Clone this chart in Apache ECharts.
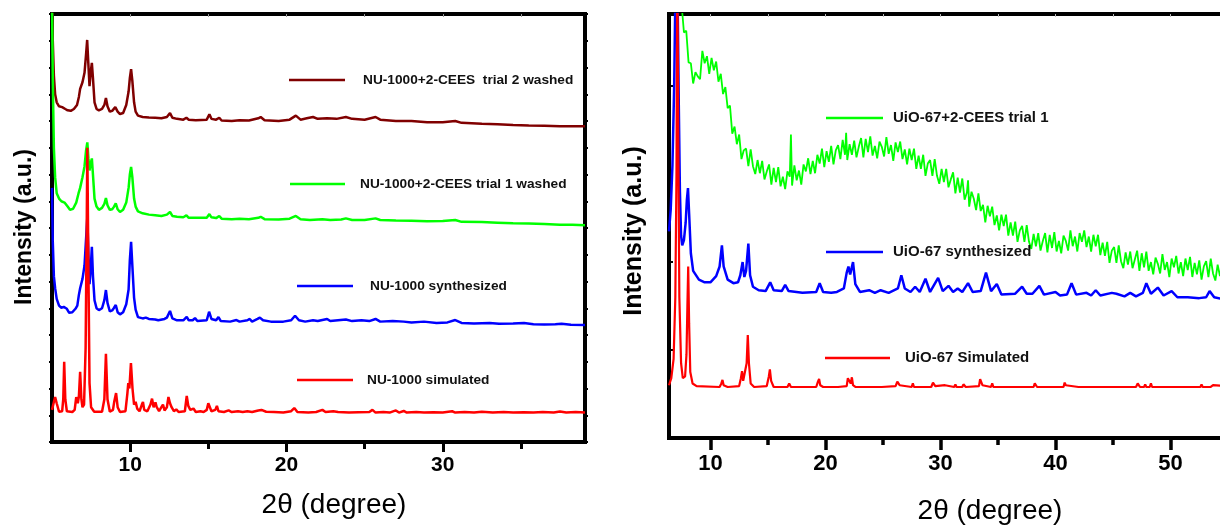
<!DOCTYPE html>
<html>
<head>
<meta charset="utf-8">
<script src="https://cdn.jsdelivr.net/npm/echarts@6/dist/echarts.min.js"></script>
<style>
html,body{margin:0;padding:0;background:#fff;}
#chart{width:1220px;height:529px;}
</style>
</head>
<body>
<div id="chart"></div>
<script>
// ---------- Left panel (NU-1000) : [2theta, intensity offset units] ----------
const leftNames = ['NU-1000+2-CEES  trial 2 washed','NU-1000+2-CEES trial 1 washed','NU-1000 synthesized','NU-1000 simulated'];
const leftXTicks = [10,15,20,25,30,35];
const leftXLabels = [10,20,30];

const nuTrial2 = [[5.0,16.5],[5.05,15.0],[5.12,13.7],[5.2,13.0],[5.3,12.7],[5.45,12.55],[5.65,12.52],[5.85,12.45],[6.0,12.4],[6.2,12.38],[6.4,12.45],[6.6,12.6],[6.72,12.9],[6.8,13.2],[6.95,13.45],[7.08,13.8],[7.18,14.5],[7.25,15.03],[7.32,14.2],[7.4,13.3],[7.47,13.8],[7.55,14.17],[7.62,13.6],[7.72,12.7],[7.85,12.45],[8.0,12.4],[8.2,12.45],[8.35,12.6],[8.45,12.86],[8.55,12.55],[8.7,12.35],[8.85,12.38],[8.95,12.45],[9.05,12.52],[9.2,12.35],[9.35,12.26],[9.55,12.3],[9.75,12.6],[9.9,13.1],[9.98,13.6],[10.06,13.94],[10.14,13.5],[10.25,12.7],[10.35,12.35],[10.5,12.2],[10.8,12.15],[11.2,12.13],[11.6,12.12],[12.0,12.1],[12.35,12.15],[12.55,12.3],[12.7,12.12],[13.0,12.08],[13.4,12.05],[13.6,12.12],[13.75,12.05],[14.2,12.03],[14.9,12.05],[15.07,12.25],[15.2,12.08],[15.5,12.05],[15.7,12.12],[15.85,12.02],[16.5,12.0],[17.0,12.03],[17.6,12.02],[18.2,12.1],[18.35,12.15],[18.6,12.03],[19.5,12.0],[20.2,12.05],[20.6,12.2],[20.9,12.05],[21.3,12.1],[21.7,12.15],[22.0,12.08],[22.6,12.1],[23.2,12.08],[23.8,12.15],[24.2,12.08],[25.0,12.05],[25.7,12.15],[26.0,12.05],[27.0,12.0],[28.0,12.0],[29.0,11.95],[30.0,11.95],[30.8,12.0],[31.2,11.93],[32.5,11.9],[33.5,11.88],[34.5,11.85],[35.5,11.83],[36.5,11.82],[37.5,11.8],[38.3,11.8],[39.1,11.8]];

const nuTrial1 = [[5.0,16.5],[5.05,13.5],[5.12,11.0],[5.2,9.9],[5.3,9.3],[5.45,9.1],[5.6,9.0],[5.8,8.95],[6.0,8.8],[6.15,8.68],[6.35,8.72],[6.55,8.95],[6.7,9.3],[6.8,9.5],[6.95,9.9],[7.08,10.3],[7.18,10.9],[7.26,11.2],[7.33,10.6],[7.4,10.15],[7.47,10.4],[7.55,10.6],[7.62,10.0],[7.72,9.1],[7.85,8.8],[8.0,8.68],[8.2,8.75],[8.35,8.9],[8.45,9.12],[8.55,8.85],[8.7,8.68],[8.85,8.7],[8.95,8.78],[9.08,8.92],[9.2,8.7],[9.35,8.6],[9.55,8.68],[9.75,8.95],[9.9,9.5],[9.98,10.0],[10.06,10.28],[10.14,9.9],[10.25,9.1],[10.35,8.8],[10.5,8.62],[10.8,8.55],[11.2,8.5],[11.6,8.48],[12.0,8.45],[12.35,8.5],[12.55,8.6],[12.7,8.45],[13.0,8.42],[13.4,8.4],[13.6,8.47],[13.75,8.38],[14.2,8.38],[14.9,8.38],[15.07,8.52],[15.2,8.4],[15.5,8.37],[15.7,8.45],[15.85,8.35],[16.5,8.33],[17.0,8.35],[17.6,8.33],[18.2,8.38],[18.35,8.42],[18.6,8.33],[19.5,8.32],[20.2,8.35],[20.6,8.45],[20.9,8.33],[21.5,8.3],[22.3,8.33],[22.8,8.3],[23.5,8.32],[23.8,8.36],[24.2,8.3],[25.0,8.3],[25.7,8.36],[26.0,8.3],[27.0,8.28],[28.0,8.27],[29.0,8.25],[30.0,8.26],[30.8,8.3],[31.2,8.23],[32.5,8.22],[33.5,8.2],[34.5,8.18],[35.5,8.17],[36.5,8.15],[37.5,8.12],[38.3,8.12],[39.1,8.1]];

const nuSynth = [[5.0,9.5],[5.05,7.5],[5.12,6.2],[5.2,5.75],[5.3,5.35],[5.45,5.1],[5.6,5.02],[5.75,5.05],[5.85,5.12],[5.95,4.98],[6.1,4.83],[6.3,4.85],[6.5,4.98],[6.62,5.1],[6.72,5.5],[6.8,5.75],[6.95,6.1],[7.08,6.6],[7.18,7.6],[7.26,8.4],[7.33,7.0],[7.4,5.9],[7.47,6.4],[7.55,7.3],[7.62,6.2],[7.72,5.3],[7.85,5.0],[8.0,4.93],[8.2,5.0],[8.35,5.3],[8.45,5.68],[8.55,5.2],[8.7,4.88],[8.85,4.92],[8.95,5.0],[9.08,5.12],[9.2,4.85],[9.35,4.77],[9.55,4.85],[9.75,5.15],[9.9,5.7],[9.98,6.8],[10.06,7.48],[10.14,6.6],[10.25,5.4],[10.35,4.95],[10.5,4.67],[10.8,4.62],[11.0,4.65],[11.2,4.6],[11.6,4.58],[11.8,4.55],[12.2,4.6],[12.35,4.65],[12.55,4.9],[12.7,4.62],[13.0,4.55],[13.4,4.55],[13.62,4.68],[13.75,4.55],[14.0,4.55],[14.15,4.63],[14.3,4.52],[14.9,4.55],[15.05,4.87],[15.2,4.6],[15.5,4.55],[15.65,4.67],[15.8,4.52],[16.4,4.5],[16.8,4.56],[17.0,4.5],[17.5,4.55],[17.65,4.6],[17.8,4.5],[18.15,4.6],[18.3,4.65],[18.5,4.55],[19.0,4.5],[19.8,4.5],[20.3,4.55],[20.55,4.72],[20.8,4.55],[21.2,4.5],[21.7,4.55],[22.0,4.52],[22.6,4.6],[22.8,4.52],[23.3,4.55],[23.8,4.58],[24.2,4.52],[24.8,4.55],[25.3,4.52],[25.7,4.6],[26.0,4.5],[26.8,4.52],[27.5,4.5],[28.0,4.47],[28.8,4.5],[29.6,4.45],[30.3,4.47],[30.8,4.56],[31.2,4.45],[32.0,4.43],[33.0,4.45],[33.6,4.42],[34.5,4.43],[35.2,4.45],[35.8,4.4],[36.5,4.39],[37.2,4.4],[37.6,4.42],[38.2,4.38],[39.1,4.37]];

const nuSim = [[5.0,1.2],[5.1,1.45],[5.2,1.68],[5.3,1.45],[5.45,1.13],[5.65,1.15],[5.72,1.6],[5.78,3.0],[5.85,1.6],[5.95,1.15],[6.3,1.12],[6.45,1.2],[6.55,1.68],[6.65,1.45],[6.72,1.7],[6.8,2.62],[6.88,1.6],[6.95,1.3],[7.05,1.4],[7.15,3.5],[7.22,8.0],[7.26,11.0],[7.32,7.0],[7.4,2.2],[7.5,1.3],[7.7,1.13],[8.2,1.13],[8.35,1.6],[8.45,3.3],[8.55,1.6],[8.7,1.13],[8.9,1.2],[8.98,1.5],[9.1,1.83],[9.2,1.3],[9.35,1.12],[9.7,1.15],[9.82,1.8],[9.88,2.2],[9.95,2.0],[10.05,2.95],[10.15,2.0],[10.25,1.4],[10.35,1.5],[10.45,1.25],[10.6,1.15],[10.75,1.4],[10.82,1.5],[10.9,1.2],[11.1,1.15],[11.3,1.4],[11.4,1.62],[11.5,1.3],[11.62,1.48],[11.7,1.3],[11.85,1.15],[12.0,1.3],[12.1,1.4],[12.2,1.18],[12.35,1.3],[12.45,1.68],[12.55,1.45],[12.65,1.3],[12.8,1.15],[12.95,1.22],[13.1,1.12],[13.5,1.15],[13.62,1.72],[13.72,1.35],[13.85,1.2],[14.05,1.25],[14.2,1.12],[14.5,1.15],[14.7,1.12],[14.9,1.2],[15.0,1.45],[15.1,1.3],[15.2,1.15],[15.45,1.2],[15.55,1.35],[15.65,1.15],[16.0,1.12],[16.3,1.18],[16.5,1.12],[16.9,1.15],[17.2,1.12],[17.5,1.15],[17.6,1.2],[17.8,1.12],[18.2,1.18],[18.4,1.2],[18.7,1.13],[19.2,1.12],[19.8,1.1],[20.3,1.15],[20.5,1.27],[20.7,1.12],[21.4,1.1],[21.9,1.12],[22.3,1.2],[22.5,1.12],[23.0,1.15],[23.3,1.12],[24.0,1.1],[24.6,1.11],[25.3,1.12],[25.5,1.2],[25.7,1.1],[26.2,1.12],[26.6,1.1],[27.0,1.18],[27.2,1.1],[27.5,1.16],[27.7,1.1],[28.3,1.12],[28.8,1.1],[29.4,1.11],[30.0,1.1],[30.6,1.15],[30.8,1.1],[31.4,1.12],[32.0,1.1],[32.5,1.13],[33.2,1.1],[33.9,1.12],[34.5,1.1],[35.2,1.11],[35.8,1.1],[36.4,1.12],[37.1,1.1],[37.5,1.14],[37.9,1.1],[38.5,1.12],[39.1,1.1]];

// ---------- Right panel (UiO-67) ----------
const rightNames = ['UiO-67+2-CEES trial 1','UiO-67 synthesized','UiO-67 Simulated'];
const rightXTicks = [10,15,20,25,30,35,40,45,50,55];
const rightXLabels = [10,20,30,40,50];

const uioTrial1 = [[7.4,5.0],[7.5,4.92],[7.7,4.61],[7.9,4.63],[8.1,4.27],[8.3,4.26],[8.5,4.03],[8.7,4.16],[8.9,4.11],[9.1,4.08],[9.3,4.40],[9.5,4.26],[9.7,4.34],[9.9,4.14],[10.1,4.32],[10.3,4.18],[10.5,4.28],[10.7,4.05],[10.9,4.14],[11.1,3.91],[11.3,3.99],
[11.5,3.75],[11.7,3.78],[11.9,3.46],[12.1,3.54],[12.3,3.34],[12.5,3.45],[12.7,3.17],[12.9,3.27],[13.1,3.29],[13.3,3.09],[13.5,3.28],[13.7,3.09],[13.9,3.00],[14.1,3.16],[14.3,3.01],[14.5,3.15],[14.7,2.94],[14.9,3.03],[15.1,3.11],[15.3,2.88],
[15.5,3.07],[15.7,2.91],[15.9,3.08],[16.1,2.86],[16.3,2.97],[16.5,2.83],[16.7,3.03],[16.9,2.97],[17.0,3.45],[17.1,2.87],[17.3,3.10],[17.5,2.93],[17.7,3.04],[17.9,2.88],[18.1,3.11],[18.3,3.03],[18.5,3.18],[18.7,3.00],[18.9,3.15],[19.1,3.01],[19.3,3.22],
[19.5,3.12],[19.7,3.29],[19.9,3.08],[20.1,3.26],[20.3,3.14],[20.5,3.32],[20.7,3.11],[20.9,3.27],[21.1,3.33],[21.3,3.17],[21.5,3.39],[21.7,3.22],[21.8,3.47],[21.9,3.16],[22.1,3.34],[22.3,3.22],[22.5,3.38],[22.7,3.19],[22.9,3.31],[23.1,3.41],[23.3,3.19],
[23.5,3.40],[23.7,3.25],[23.9,3.43],[24.1,3.21],[24.3,3.32],[24.5,3.18],[24.7,3.37],[24.9,3.31],[25.1,3.20],[25.3,3.42],[25.5,3.23],[25.7,3.33],[25.9,3.15],[26.1,3.36],[26.3,3.25],[26.5,3.37],[26.7,3.17],[26.9,3.28],[27.1,3.11],[27.3,3.29],
[27.5,3.16],[27.7,3.29],[27.9,3.06],[28.1,3.21],[28.3,3.06],[28.5,3.22],[28.7,2.98],[28.9,3.12],[29.1,3.16],[29.3,2.98],[29.5,3.17],[29.7,2.98],[29.9,2.89],[30.1,3.06],[30.3,2.91],[30.5,3.06],[30.7,2.85],[30.9,2.94],[31.1,3.02],[31.3,2.78],
[31.5,2.96],[31.7,2.79],[31.9,2.95],[32.1,2.71],[32.3,2.79],[32.4,2.93],[32.5,2.63],[32.7,2.80],[32.9,2.72],[33.1,2.59],[33.3,2.78],[33.5,2.58],[33.7,2.65],[33.9,2.45],[34.1,2.64],[34.3,2.52],[34.5,2.63],[34.7,2.42],[34.9,2.53],[35.1,2.36],[35.3,2.54],
[35.5,2.41],[35.7,2.54],[35.9,2.30],[36.1,2.45],[36.3,2.30],[36.5,2.46],[36.7,2.23],[36.9,2.36],[37.1,2.41],[37.3,2.23],[37.5,2.42],[37.7,2.23],[37.9,2.15],[38.1,2.32],[38.3,2.18],[38.5,2.33],[38.7,2.13],[38.9,2.24],[39.1,2.33],[39.3,2.11],
[39.5,2.31],[39.7,2.16],[39.9,2.34],[40.1,2.12],[40.3,2.24],[40.5,2.10],[40.7,2.30],[40.9,2.24],[41.1,2.13],[41.3,2.36],[41.5,2.18],[41.7,2.29],[41.9,2.12],[42.1,2.33],[42.3,2.23],[42.5,2.36],[42.7,2.17],[42.9,2.29],[43.1,2.12],[43.3,2.31],
[43.5,2.18],[43.7,2.31],[43.9,2.08],[44.1,2.22],[44.3,2.07],[44.5,2.23],[44.7,1.99],[44.9,2.13],[45.1,2.17],[45.3,1.99],[45.5,2.19],[45.7,2.01],[45.9,1.93],[46.1,2.11],[46.3,1.97],[46.5,2.12],[46.7,1.93],[46.9,2.03],[47.1,2.13],[47.3,1.90],
[47.5,2.10],[47.7,1.94],[47.9,2.12],[48.1,1.90],[48.3,2.00],[48.5,1.86],[48.7,2.05],[48.9,1.98],[49.1,1.87],[49.3,2.09],[49.5,1.91],[49.7,2.00],[49.9,1.83],[50.1,2.04],[50.3,1.94],[50.5,2.07],[50.7,1.87],[50.9,2.00],[51.1,1.84],[51.3,2.04],
[51.5,1.91],[51.7,2.06],[51.9,1.83],[52.1,1.99],[52.3,1.86],[52.5,2.02],[52.7,1.80],[52.9,1.95],[53.1,2.01],[53.3,1.83],[53.5,2.04],[53.7,1.87],[53.9,1.79],[54.1,1.97],[54.3,1.84],[54.5,2.00],[54.7,1.80],[54.9,1.91],[55.1,2.01],[55.3,1.79],[55.5,1.93]];

const uioSynth = [[6.4,2.35],[6.55,2.6],[6.7,3.1],[6.85,4.0],[6.95,5.0],[7.05,6.0],[7.15,5.0],[7.25,3.8],[7.35,2.8],[7.45,2.3],[7.55,2.19],[7.7,2.25],[7.85,2.45],[7.95,2.7],[8.05,2.84],[8.15,2.55],[8.3,2.1],[8.5,1.9],[9.0,1.8],[9.5,1.77],[10.0,1.77],[10.5,1.84],[10.8,1.95],[11.0,2.19],[11.15,1.95],[11.5,1.8],[12.0,1.76],[12.4,1.77],[12.6,1.85],[12.8,2.0],[12.95,1.83],[13.1,1.9],[13.3,2.21],[13.45,1.85],[13.7,1.72],[14.2,1.68],[14.8,1.67],[15.2,1.77],[15.5,1.68],[16.2,1.67],[16.5,1.74],[16.8,1.67],[18.0,1.65],[19.2,1.66],[19.5,1.76],[19.8,1.66],[20.5,1.65],[21.0,1.66],[21.6,1.7],[21.85,1.88],[22.0,1.95],[22.15,1.86],[22.4,2.0],[22.6,1.75],[23.0,1.66],[23.8,1.68],[24.3,1.65],[24.8,1.68],[25.5,1.65],[26.3,1.7],[26.6,1.85],[26.9,1.7],[27.4,1.66],[27.8,1.72],[28.2,1.66],[28.7,1.81],[29.1,1.66],[29.8,1.82],[30.2,1.67],[30.7,1.73],[31.1,1.66],[31.5,1.7],[31.9,1.66],[32.4,1.76],[32.8,1.66],[33.5,1.67],[33.96,1.88],[34.4,1.67],[34.9,1.75],[35.3,1.63],[36.5,1.64],[37.1,1.72],[37.5,1.64],[38.0,1.64],[38.6,1.73],[39.0,1.63],[40.0,1.66],[40.4,1.62],[41.0,1.63],[41.4,1.76],[41.8,1.63],[42.7,1.65],[43.1,1.62],[43.5,1.68],[43.9,1.62],[44.9,1.65],[45.3,1.64],[46.0,1.61],[46.5,1.65],[47.0,1.61],[47.6,1.65],[47.9,1.76],[48.3,1.64],[48.9,1.71],[49.4,1.62],[50.1,1.67],[50.6,1.6],[51.5,1.6],[52.5,1.59],[53.1,1.6],[53.4,1.67],[53.8,1.6],[54.5,1.58],[57.0,1.58]];

const uioSim = [[6.4,0.6],[6.6,0.68],[6.8,0.9],[6.95,1.6],[7.05,3.0],[7.12,5.5],[7.2,3.5],[7.3,1.6],[7.45,0.85],[7.6,0.68],[7.8,0.7],[7.92,0.95],[8.0,1.5],[8.07,1.95],[8.15,1.3],[8.25,0.75],[8.45,0.62],[8.8,0.59],[10.8,0.58],[10.95,0.62],[11.05,0.66],[11.15,0.6],[11.5,0.58],[12.5,0.59],[12.65,0.68],[12.75,0.76],[12.85,0.65],[13.0,0.63],[13.15,0.85],[13.25,1.17],[13.35,0.85],[13.5,0.62],[13.8,0.58],[14.9,0.59],[15.08,0.7],[15.17,0.78],[15.28,0.65],[15.5,0.58],[16.7,0.58],[16.85,0.62],[17.0,0.58],[19.2,0.58],[19.35,0.64],[19.45,0.67],[19.55,0.6],[19.8,0.58],[20.9,0.58],[21.0,0.6],[21.1,0.58],[21.85,0.59],[21.95,0.68],[22.05,0.66],[22.2,0.62],[22.3,0.69],[22.4,0.6],[22.6,0.58],[23.7,0.58],[23.8,0.6],[23.9,0.58],[24.7,0.58],[24.8,0.6],[24.9,0.58],[26.1,0.59],[26.25,0.64],[26.35,0.66],[26.45,0.6],[26.6,0.58],[27.5,0.58],[27.6,0.62],[27.7,0.58],[29.2,0.58],[29.35,0.63],[29.45,0.64],[29.55,0.59],[30.4,0.6],[30.5,0.58],[31.2,0.58],[31.3,0.61],[31.4,0.58],[31.9,0.58],[32.0,0.61],[32.1,0.6],[32.2,0.58],[33.35,0.59],[33.45,0.67],[33.55,0.69],[33.65,0.6],[34.4,0.58],[34.5,0.62],[34.6,0.58],[36.5,0.58],[36.6,0.6],[36.7,0.58],[38.1,0.58],[38.2,0.62],[38.3,0.63],[38.4,0.58],[39.5,0.58],[39.6,0.6],[39.7,0.58],[40.7,0.58],[40.8,0.63],[40.9,0.6],[41.0,0.58],[42.0,0.58],[42.1,0.6],[42.2,0.58],[42.8,0.58],[42.9,0.6],[43.0,0.58],[44.1,0.58],[44.2,0.6],[44.3,0.58],[44.5,0.58],[44.6,0.6],[44.7,0.58],[45.7,0.58],[45.8,0.6],[45.9,0.58],[47.0,0.58],[47.15,0.62],[47.25,0.62],[47.35,0.58],[47.7,0.58],[47.8,0.61],[47.9,0.58],[48.2,0.58],[48.3,0.62],[48.4,0.58],[49.3,0.58],[49.4,0.6],[49.5,0.58],[52.6,0.58],[52.7,0.61],[52.8,0.58],[53.3,0.58],[53.4,0.6],[53.5,0.58],[53.6,0.58],[53.7,0.6],[53.8,0.58],[57.0,0.58]];

const yTitle = 'Intensity (a.u.)';
const xTitle = '2θ (degree)';

// ---------- chart ----------
const FF = '"Liberation Sans", Arial, sans-serif';
const chart = echarts.init(document.getElementById('chart'), null, {renderer:'canvas'});

function lineSeries(name, data, color, xi, yi, w){
  return {name, type:'line', data, xAxisIndex:xi, yAxisIndex:yi, symbol:'none', smooth:false,
    lineStyle:{color, width:w}, itemStyle:{color}, clip:true, silent:true};
}
function legendAt(name, left, lineY, w, pad, fs){
  return {data:[name], left, top:lineY-10.5, padding:0, icon:'rect', itemWidth:w, itemHeight:2.5,
    textStyle:{fontFamily:FF, fontWeight:'bold', fontSize:fs, color:'#111', lineHeight:16, padding:[5,0,0,pad]},
    selectedMode:false};
}
const tickStyle = {color:'#000', width:3};

const option = {
  animation:false,
  backgroundColor:'#fff',
  grid:[
    {left:52, top:14, width:533, height:428, show:true, borderColor:'#000', borderWidth:4, backgroundColor:'transparent', outerBoundsMode:'none', containLabel:false},
    {left:669, top:14, width:582, height:424, show:true, borderColor:'#000', borderWidth:4, backgroundColor:'transparent', outerBoundsMode:'none', containLabel:false}
  ],
  xAxis:[
    {gridIndex:0, type:'value', min:5, max:39.1, position:'bottom', axisLine:{show:false}, splitLine:{show:false},
      axisTick:{show:true, customValues:leftXTicks, length:7, lineStyle:tickStyle},
      axisLabel:{customValues:leftXLabels, fontFamily:FF, fontWeight:'bold', fontSize:21, color:'#000', margin:13}},
    {gridIndex:0, type:'value', min:5, max:39.1, position:'bottom', axisLine:{show:false}, splitLine:{show:false},
      axisTick:{show:true, customValues:leftXLabels, length:10, lineStyle:tickStyle}, axisLabel:{show:false}},
    {gridIndex:0, type:'value', min:5, max:39.1, position:'top', axisLine:{show:false}, splitLine:{show:false},
      axisTick:{show:true, inside:true, customValues:leftXTicks, length:3, lineStyle:{color:'#999', width:1}}, axisLabel:{show:false}},
    {gridIndex:1, type:'value', min:6.4, max:57, position:'bottom', axisLine:{show:false}, splitLine:{show:false},
      axisTick:{show:true, customValues:rightXTicks, length:7, lineStyle:{color:'#000', width:3.5}},
      axisLabel:{customValues:rightXLabels, fontFamily:FF, fontWeight:'bold', fontSize:22, color:'#000', margin:15}},
    {gridIndex:1, type:'value', min:6.4, max:57, position:'bottom', axisLine:{show:false}, splitLine:{show:false},
      axisTick:{show:true, customValues:rightXLabels, length:12, lineStyle:{color:'#000', width:3.5}}, axisLabel:{show:false}},
    {gridIndex:1, type:'value', min:6.4, max:57, position:'top', axisLine:{show:false}, splitLine:{show:false},
      axisTick:{show:true, inside:true, customValues:rightXTicks, length:3, lineStyle:{color:'#bbb', width:1}}, axisLabel:{show:false}}
  ],
  yAxis:[
    {gridIndex:0, type:'value', min:0, max:16, interval:1, position:'left', axisLine:{show:false}, splitLine:{show:false},
      axisTick:{show:true, length:3, lineStyle:{color:'#000', width:2}}, axisLabel:{show:false}},
    {gridIndex:0, type:'value', min:0, max:16, interval:1, position:'right', axisLine:{show:false}, splitLine:{show:false},
      axisTick:{show:true, length:3, lineStyle:{color:'#000', width:2}}, axisLabel:{show:false}},
    {gridIndex:1, type:'value', min:0, max:4.82, interval:1, position:'left', axisLine:{show:false}, splitLine:{show:false},
      axisTick:{show:true, inside:true, length:4, lineStyle:{color:'#000', width:2}}, axisLabel:{show:false}}
  ],
  legend:[
    legendAt(leftNames[0], 289, 80, 56, 13, 13.7),
    legendAt(leftNames[1], 290, 184, 55, 10, 13.7),
    legendAt(leftNames[2], 297, 286, 56, 12, 13.7),
    legendAt(leftNames[3], 297, 380, 56, 9, 13.7),
    legendAt(rightNames[0], 826, 118, 57, 5, 15),
    legendAt(rightNames[1], 826, 252, 57, 5, 15),
    legendAt(rightNames[2], 825, 358, 65, 10, 15)
  ],
  series:[
    lineSeries(leftNames[0], nuTrial2, '#800000', 0, 0, 2.5),
    lineSeries(leftNames[1], nuTrial1, '#00ff00', 0, 0, 2.5),
    lineSeries(leftNames[2], nuSynth, '#0000ff', 0, 0, 2.5),
    lineSeries(leftNames[3], nuSim, '#ff0000', 0, 0, 2.5),
    lineSeries(rightNames[0], uioTrial1, '#00ff00', 3, 2, 1.8),
    lineSeries(rightNames[1], uioSynth, '#0000ff', 3, 2, 2.5),
    lineSeries(rightNames[2], uioSim, '#ff0000', 3, 2, 2.2)
  ],
  graphic:[
    {type:'text', x:25, y:227, rotation:Math.PI/2, style:{text:yTitle, font:'bold 23px ' + FF, fill:'#000', align:'center', verticalAlign:'middle'}},
    {type:'text', x:634, y:231, rotation:Math.PI/2, style:{text:yTitle, font:'bold 25px ' + FF, fill:'#000', align:'center', verticalAlign:'middle'}},
    {type:'text', x:334, y:505, style:{text:xTitle, font:'28px ' + FF, fill:'#000', align:'center', verticalAlign:'middle'}},
    {type:'text', x:990, y:511, style:{text:xTitle, font:'28px ' + FF, fill:'#000', align:'center', verticalAlign:'middle'}}
  ]
};
chart.setOption(option);
</script>
</body>
</html>
